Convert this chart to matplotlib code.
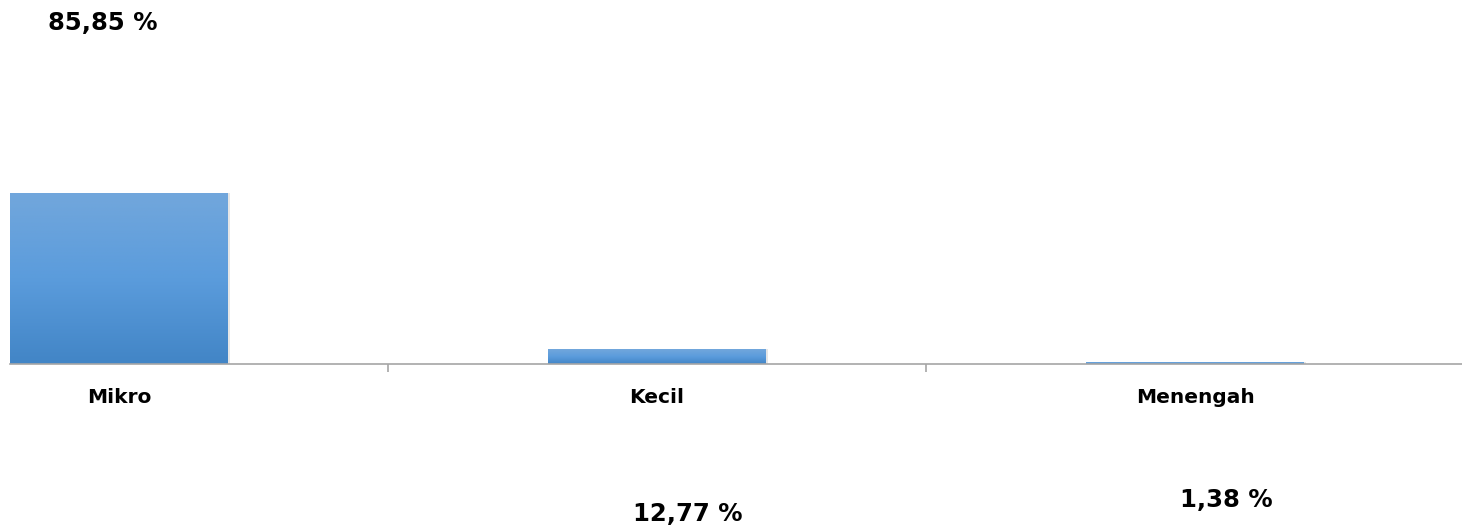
import numpy as np
import matplotlib.pyplot as plt
from matplotlib.colors import LinearSegmentedColormap

# Kategori usaha dan persentase
categories = ['Mikro', 'Kecil', 'Menengah']
percent_labels = ['85,85 %', '12,77 %', '1,38 %']
# tinggi batang seperti yang terlihat di gambar (tidak proporsional dengan label)
bar_heights = [85.85, 7.5, 0.8]

plt.rcParams['font.family'] = ['DejaVu Sans']

fig = plt.figure(figsize=(14.62, 5.30), dpi=100)
ax = fig.add_axes([10 / 1462, 166 / 530, 1452 / 1462, 364 / 530])

x = np.arange(len(categories))
bars = ax.bar(x, bar_heights, width=0.405, color='none', edgecolor='none', zorder=2)

# gradient fill for each bar
cmap = LinearSegmentedColormap.from_list('bluegrad', ['#4285c6', '#5b9cdc', '#72a7dc'])
grad = np.linspace(0, 1, 256).reshape(-1, 1)
for b in bars:
    x0, y0 = b.get_x(), b.get_y()
    w, h = b.get_width(), b.get_height()
    # soft shadow
    ax.bar(x0 + w / 2 + 0.002, h, width=w + 0.004, bottom=y0, color='#e6e6e6', zorder=1)
    im = ax.imshow(grad, cmap=cmap, origin='lower', aspect='auto',
                   extent=[x0, x0 + w, y0, y0 + h], zorder=2)
    im.set_clip_path(b)

ax.set_xlim(-0.2026, 2.496)
ax.set_ylim(0, 182.7)

# only the bottom axis line
for side in ['top', 'right', 'left']:
    ax.spines[side].set_visible(False)
ax.spines['bottom'].set_color('#a6a6a6')
ax.spines['bottom'].set_linewidth(1.2)
ax.spines['bottom'].set_zorder(3)
ax.set_yticks([])

ax.set_xticks(x)
ax.set_xticklabels(categories, fontsize=14.5, fontweight='bold')
ax.tick_params(axis='x', which='major', length=0, pad=17)
ax.set_xticks(x[:-1] + 0.5, minor=True)
ax.tick_params(axis='x', which='minor', length=5.5, color='#a6a6a6', width=1.2)

# data labels, placed as in the original
label_pos = [(-0.031, 171.0), (1.057, -75.5), (2.058, -68.5)]
for (lx, ly), txt in zip(label_pos, percent_labels):
    ax.text(lx, ly, txt, ha='center', va='center', fontsize=17.5,
            fontweight='bold', clip_on=False)

fig.savefig('out.png', dpi=100)
